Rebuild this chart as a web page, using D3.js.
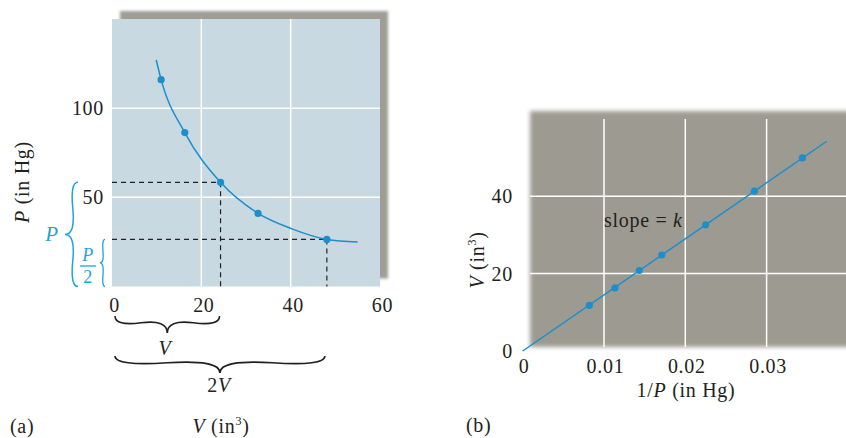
<!DOCTYPE html>
<html>
<head>
<meta charset="utf-8">
<script src="https://cdn.jsdelivr.net/npm/d3@7"></script>
<style>
html,body{margin:0;padding:0;background:#fff;}
svg{display:block;}
text{font-family:"Liberation Serif","Times New Roman",serif;fill:#231f20;letter-spacing:0.7px;}
</style>
</head>
<body>
<svg id="chart" width="846" height="438"></svg>
<script>
// ---- Data: panel (a) P vs V ----
const aTicksX = [0, 20, 40, 60];
const aTicksY = [50, 100];
const aGridX = [20, 40];
const aGridY = [50, 100];
const aPointsV = [11.0, 16.3, 24.3, 32.7, 48.1];
const aPointsP = [116, 86.3, 58.4, 41.0, 26.4];
const aCurveV = [9.9, 11.0, 16.3, 24.3, 32.7, 40.0, 48.1, 55.0];
const aCurveP = [127, 116, 86.3, 58.4, 41.0, 32.6, 26.4, 25.0];
const aDashedIdx = [2, 4]; // points with guide lines (V and 2V)

// ---- Data: panel (b) V vs 1/P ----
const bTicksX = [0, 0.01, 0.02, 0.03];
const bTickLabelsX = ["0", "0.01", "0.02", "0.03"];
const bTicksY = [0, 20, 40];
const bGridX = [0.01, 0.02, 0.03];
const bGridY = [20, 40];
const bPointsInvP = [0.0082, 0.01135, 0.01434, 0.0171, 0.0225, 0.0285, 0.0344];
const bPointsV = [11.8, 16.3, 20.8, 24.8, 32.6, 41.3, 49.9];
const bLineInvP = [0, 0.0374];
const bLineV = [0, 54.2];

const BLUE = "#1a8fcb";
const BRACE_BLUE = "#1fa3df";
const FS = 20;

const svg = d3.select("#chart");
const defs = svg.append("defs");
defs.append("filter").attr("id","blurA").attr("x","-10%").attr("y","-10%").attr("width","120%").attr("height","120%")
  .append("feGaussianBlur").attr("stdDeviation", 1.6);
defs.append("filter").attr("id","blurB").attr("x","-10%").attr("y","-10%").attr("width","120%").attr("height","120%")
  .append("feGaussianBlur").attr("stdDeviation", 2.2);

function brace(x1, y1, x2, y2, w, q) {
  const len = Math.hypot(x1 - x2, y1 - y2);
  const dx = (x1 - x2) / len, dy = (y1 - y2) / len;
  const qx1 = x1 + q * w * dy, qy1 = y1 - q * w * dx;
  const qx2 = (x1 - .25 * len * dx) + (1 - q) * w * dy, qy2 = (y1 - .25 * len * dy) - (1 - q) * w * dx;
  const tx1 = (x1 - .5 * len * dx) + w * dy, ty1 = (y1 - .5 * len * dy) - w * dx;
  const qx3 = x2 + q * w * dy, qy3 = y2 - q * w * dx;
  const qx4 = (x1 - .75 * len * dx) + (1 - q) * w * dy, qy4 = (y1 - .75 * len * dy) - (1 - q) * w * dx;
  return `M ${x1} ${y1} Q ${qx1} ${qy1} ${qx2} ${qy2} T ${tx1} ${ty1} M ${x2} ${y2} Q ${qx3} ${qy3} ${qx4} ${qy4} T ${tx1} ${ty1}`;
}

// ================= Panel (a) =================
const ax = d3.scaleLinear().domain([0, 60]).range([112, 380]);
const ay = d3.scaleLinear().domain([0, 150]).range([286.5, 19]);
const gA = svg.append("g");

// shadow
gA.append("rect")
  .attr("x", ax(0) + 8).attr("y", ay(150) - 8)
  .attr("width", ax(60) - ax(0)).attr("height", ay(0) - ay(150))
  .attr("fill", "#9f9d94").attr("filter", "url(#blurA)");
// plot background
gA.append("rect")
  .attr("x", ax(0)).attr("y", ay(150))
  .attr("width", ax(60) - ax(0)).attr("height", ay(0) - ay(150))
  .attr("fill", "#c8d9e1");
// grid
gA.selectAll(".gx").data(aGridX).join("line")
  .attr("x1", d => ax(d)).attr("x2", d => ax(d))
  .attr("y1", ay(150)).attr("y2", ay(0))
  .attr("stroke", "#fff").attr("stroke-width", 1.5);
gA.selectAll(".gy").data(aGridY).join("line")
  .attr("x1", ax(0)).attr("x2", ax(60))
  .attr("y1", d => ay(d)).attr("y2", d => ay(d))
  .attr("stroke", "#fff").attr("stroke-width", 1.5);

// dashed guides
aDashedIdx.forEach(i => {
  gA.append("line")
    .attr("x1", ax(0)).attr("x2", ax(aPointsV[i]))
    .attr("y1", ay(aPointsP[i])).attr("y2", ay(aPointsP[i]))
    .attr("stroke", "#222").attr("stroke-width", 1.2).attr("stroke-dasharray", "5,4");
  gA.append("line")
    .attr("x1", ax(aPointsV[i])).attr("x2", ax(aPointsV[i]))
    .attr("y1", ay(aPointsP[i])).attr("y2", ay(0))
    .attr("stroke", "#222").attr("stroke-width", 1.2).attr("stroke-dasharray", "5,4");
});

// curve
const aCurve = aCurveV.map((v, i) => [v, aCurveP[i]]);
gA.append("path")
  .datum(aCurve)
  .attr("d", d3.line().x(d => ax(d[0])).y(d => ay(d[1])).curve(d3.curveMonotoneX))
  .attr("fill", "none").attr("stroke", BLUE).attr("stroke-width", 1.5);
gA.selectAll(".pa").data(aPointsV).join("circle")
  .attr("cx", d => ax(d)).attr("cy", (d, i) => ay(aPointsP[i]))
  .attr("r", 3.6).attr("fill", BLUE);

// axes
const axB = gA.append("g").attr("transform", `translate(2,${ay(0) + 4})`)
  .call(d3.axisBottom(ax).tickValues(aTicksX).tickSize(0).tickPadding(7));
axB.select(".domain").remove();
axB.selectAll("text").attr("font-size", FS).attr("font-family", "Liberation Serif").attr("fill", "#231f20");
const axL = gA.append("g").attr("transform", `translate(${ax(0) - 8},0)`)
  .call(d3.axisLeft(ay).tickValues(aTicksY).tickSize(0).tickPadding(0));
axL.select(".domain").remove();
axL.selectAll("text").attr("font-size", FS).attr("font-family", "Liberation Serif").attr("fill", "#231f20");

// y label
const yLab = gA.append("text")
  .attr("transform", `translate(29,${182}) rotate(-90)`)
  .attr("text-anchor", "middle").attr("font-size", FS);
yLab.append("tspan").attr("font-style", "italic").text("P");
yLab.append("tspan").text(" (in Hg)");

// blue braces P and P/2
const pTop = ay(aPointsP[2]), pHalf = ay(aPointsP[4]), pBot = ay(0);
gA.append("path").attr("d", brace(78, pTop, 78, pBot, 13, 0.6))
  .attr("fill", "none").attr("stroke", BRACE_BLUE).attr("stroke-width", 1.5);
gA.append("path").attr("d", brace(105, pHalf, 105, pBot, 5, 0.6))
  .attr("fill", "none").attr("stroke", BRACE_BLUE).attr("stroke-width", 1.3);
gA.append("text").attr("x", 52).attr("y", 241).attr("text-anchor", "middle")
  .attr("font-size", 21).attr("font-style", "italic").style("fill", BRACE_BLUE).text("P");
gA.append("text").attr("x", 88).attr("y", 261).attr("text-anchor", "middle")
  .attr("font-size", 18).attr("font-style", "italic").style("fill", BRACE_BLUE).text("P");
gA.append("line").attr("x1", 80).attr("x2", 96).attr("y1", 266).attr("y2", 266)
  .attr("stroke", BRACE_BLUE).attr("stroke-width", 1.3);
gA.append("text").attr("x", 88).attr("y", 283).attr("text-anchor", "middle")
  .attr("font-size", 18).style("fill", BRACE_BLUE).text("2");

// braces under x axis
gA.append("path").attr("d", brace(ax(0) + 3, 316, ax(aPointsV[2]) - 1, 316, 17, 0.6))
  .attr("fill", "none").attr("stroke", "#231f20").attr("stroke-width", 1.6);
gA.append("path").attr("d", brace(ax(0) + 3, 356, ax(aPointsV[4]) - 2, 356, 17, 0.6))
  .attr("fill", "none").attr("stroke", "#231f20").attr("stroke-width", 1.6);
gA.append("text").attr("x", 165).attr("y", 355).attr("text-anchor", "middle")
  .attr("font-size", FS).attr("font-style", "italic").text("V");
const t2v = gA.append("text").attr("x", 219).attr("y", 392).attr("text-anchor", "middle").attr("font-size", FS);
t2v.append("tspan").text("2");
t2v.append("tspan").attr("font-style", "italic").text("V");

// x label + (a)
gA.append("text").attr("x", 10).attr("y", 433).attr("font-size", FS).text("(a)");
const xLabA = gA.append("text").attr("x", 221).attr("y", 433).attr("text-anchor", "middle").attr("font-size", FS);
xLabA.append("tspan").attr("font-style", "italic").text("V");
xLabA.append("tspan").text(" (in");
xLabA.append("tspan").attr("font-size", 12).attr("dy", -8).text("3");
xLabA.append("tspan").attr("dy", 8).text(")");

// ================= Panel (b) =================
const bx = d3.scaleLinear().domain([0, 0.04]).range([522.7, 847.9]);
const by = d3.scaleLinear().domain([0, 60]).range([351, 118.8]);
const gB = svg.append("g");

gB.append("rect")
  .attr("x", 530).attr("y", 111)
  .attr("width", 330).attr("height", 236)
  .attr("fill", "#9d9b91").attr("filter", "url(#blurB)");
gB.selectAll(".gx").data(bGridX).join("line")
  .attr("x1", d => bx(d)).attr("x2", d => bx(d))
  .attr("y1", 119).attr("y2", 347)
  .attr("stroke", "#fff").attr("stroke-width", 1.5);
gB.selectAll(".gy").data(bGridY).join("line")
  .attr("x1", 530).attr("x2", 846)
  .attr("y1", d => by(d)).attr("y2", d => by(d))
  .attr("stroke", "#fff").attr("stroke-width", 1.5);

gB.append("line")
  .attr("x1", bx(bLineInvP[0])).attr("y1", by(bLineV[0]))
  .attr("x2", bx(bLineInvP[1])).attr("y2", by(bLineV[1]))
  .attr("stroke", BLUE).attr("stroke-width", 1.5);
gB.selectAll(".pb").data(bPointsInvP).join("circle")
  .attr("cx", d => bx(d)).attr("cy", (d, i) => by(bPointsV[i]))
  .attr("r", 3.6).attr("fill", BLUE);

gB.append("text").attr("x", 604).attr("y", 227).attr("font-size", FS)
  .call(t => { t.append("tspan").text("slope = "); t.append("tspan").attr("font-style", "italic").text("k"); });

const bxAx = gB.append("g").attr("transform", `translate(1,${by(0) + 4})`)
  .call(d3.axisBottom(bx).tickValues(bTicksX).tickFormat((d, i) => bTickLabelsX[i]).tickSize(0).tickPadding(4));
bxAx.select(".domain").remove();
bxAx.selectAll("text").attr("font-size", FS).attr("font-family", "Liberation Serif").attr("fill", "#231f20");
const byAx = gB.append("g").attr("transform", `translate(513,0)`)
  .call(d3.axisLeft(by).tickValues(bTicksY).tickSize(0).tickPadding(0));
byAx.select(".domain").remove();
byAx.selectAll("text").attr("font-size", FS).attr("font-family", "Liberation Serif").attr("fill", "#231f20");

const yLabB = gB.append("text")
  .attr("transform", `translate(484,260) rotate(-90)`)
  .attr("text-anchor", "middle").attr("font-size", FS);
yLabB.append("tspan").attr("font-style", "italic").text("V");
yLabB.append("tspan").text(" (in");
yLabB.append("tspan").attr("font-size", 12).attr("dy", -8).text("3");
yLabB.append("tspan").attr("dy", 8).text(")");

const xLabB = gB.append("text").attr("x", 686).attr("y", 397).attr("text-anchor", "middle").attr("font-size", FS);
xLabB.append("tspan").text("1/");
xLabB.append("tspan").attr("font-style", "italic").text("P");
xLabB.append("tspan").text(" (in Hg)");

gB.append("text").attr("x", 466).attr("y", 432).attr("font-size", FS).text("(b)");
</script>
</body>
</html>
